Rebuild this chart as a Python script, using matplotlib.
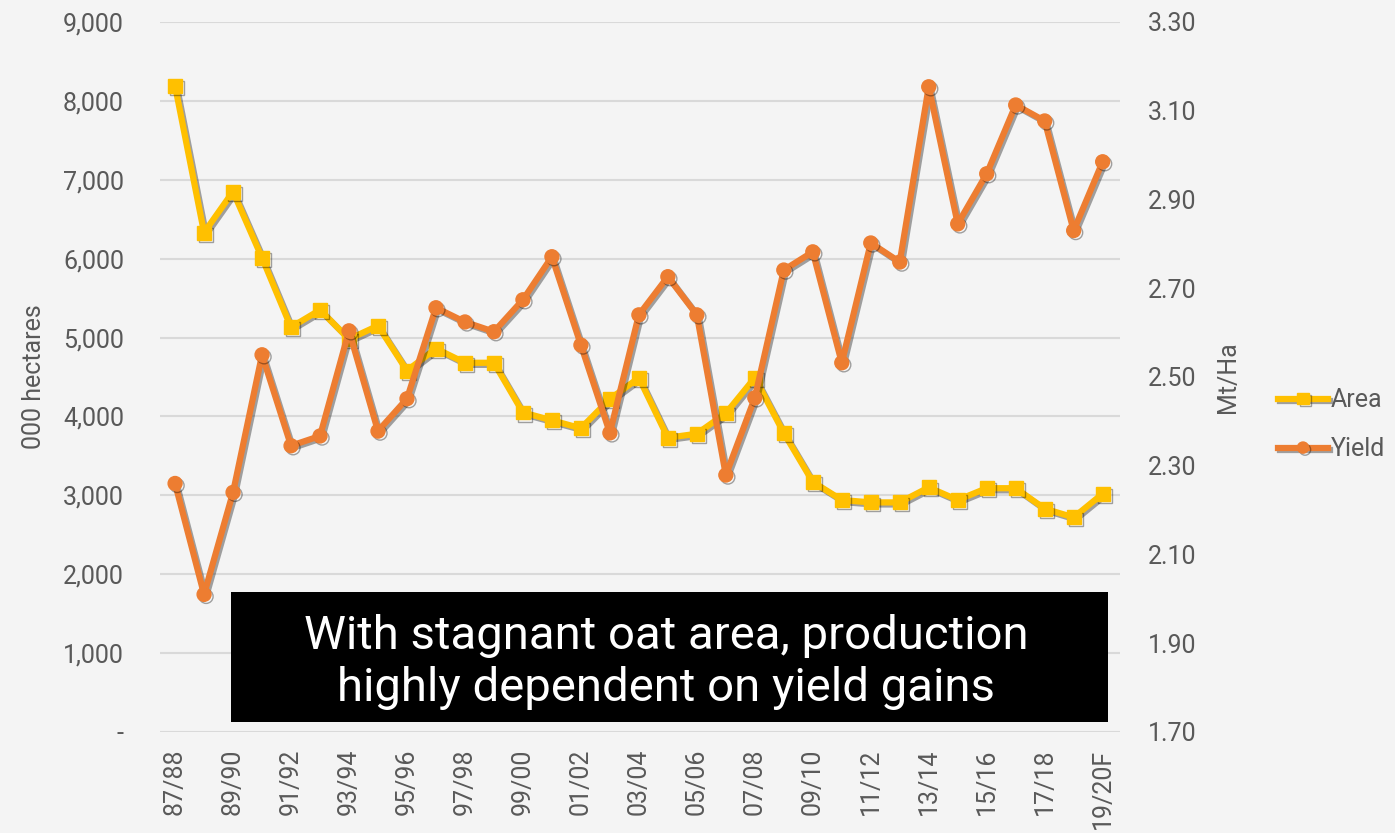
import matplotlib.pyplot as plt
import matplotlib.patheffects as pe
from matplotlib.ticker import FuncFormatter
import numpy as np

# Oat area and yield by marketing year
seasons = ['87/88', '88/89', '89/90', '90/91', '91/92', '92/93', '93/94', '94/95',
           '95/96', '96/97', '97/98', '98/99', '99/00', '00/01', '01/02', '02/03',
           '03/04', '04/05', '05/06', '06/07', '07/08', '08/09', '09/10', '10/11',
           '11/12', '12/13', '13/14', '14/15', '15/16', '16/17', '17/18', '18/19',
           '19/20F']
area = [8190, 6330, 6850, 6010, 5130, 5350, 4980, 5150, 4580, 4860, 4680, 4680,
        4050, 3950, 3850, 4220, 4490, 3730, 3780, 4040, 4490, 3790, 3170, 2940,
        2910, 2910, 3100, 2940, 3090, 3090, 2830, 2720, 3020]
yld = [2.26, 2.01, 2.24, 2.55, 2.345, 2.367, 2.604, 2.378, 2.451, 2.656, 2.624,
       2.602, 2.674, 2.771, 2.572, 2.374, 2.64, 2.726, 2.64, 2.279, 2.453, 2.741,
       2.782, 2.532, 2.802, 2.759, 3.154, 2.845, 2.958, 3.113, 3.077, 2.83, 2.985]

area_col = '#FFC000'
yld_col = '#ED7D31'
txt_col = '#595959'
bg = '#F4F4F4'

plt.rcParams['font.family'] = ['Roboto', 'DejaVu Sans']

fig = plt.figure(figsize=(13.95, 8.33), dpi=100, facecolor=bg)
ax = fig.add_axes([0.1147, 0.1213, 0.6882, 0.8523], facecolor=bg)
ax2 = ax.twinx()

x = np.arange(len(seasons))
shadow = [pe.SimpleLineShadow(offset=(1.5, -1.5), shadow_color='k', alpha=0.35),
          pe.Normal()]

ax.plot(x, area, color=area_col, lw=4.5, marker='s', ms=10, label='Area',
        path_effects=shadow, zorder=3)
ax2.plot(x, yld, color=yld_col, lw=4.5, marker='o', ms=10, label='Yield',
         path_effects=shadow, zorder=3)

ax.set_xlim(-0.52, 32.6)
ax.set_ylim(0, 9000)
ax.set_yticks(np.arange(0, 9001, 1000))
ax.yaxis.set_major_formatter(FuncFormatter(lambda v, p: '-' if v == 0 else f'{v:,.0f}'))
ax2.set_ylim(1.70, 3.30)
ax2.set_yticks(np.arange(1.70, 3.31, 0.20))
ax2.yaxis.set_major_formatter(FuncFormatter(lambda v, p: f'{v:.2f}'))

ax.set_xticks(x[::2])
ax.set_xticklabels(seasons[::2], rotation=90)

ax.grid(axis='y', color='#D9D9D9', lw=1.5)
ax.set_axisbelow(True)
for a in (ax, ax2):
    for s in a.spines.values():
        s.set_visible(False)
    a.tick_params(length=0, labelsize=18, labelcolor=txt_col)
ax.tick_params(axis='y', pad=26)
ax.tick_params(axis='x', pad=12)
ax2.tick_params(axis='y', pad=20)

ax.set_ylabel('000 hectares', fontsize=18, color=txt_col, labelpad=12)
ax2.set_ylabel('Mt/Ha', fontsize=18, color=txt_col, labelpad=14)

h1, l1 = ax.get_legend_handles_labels()
h2, l2 = ax2.get_legend_handles_labels()
fig.legend(h1 + h2, l1 + l2, loc='center left', bbox_to_anchor=(0.9, 0.49),
           frameon=False, fontsize=18, labelcolor=txt_col, handlelength=2.0,
           handletextpad=0.1, labelspacing=1.0, markerscale=0.8)

fig.patches.append(plt.Rectangle((231 / 1395, 1 - 722 / 833), 877 / 1395, 130 / 833,
                                 transform=fig.transFigure, facecolor='black',
                                 edgecolor='none', zorder=9))
fig.text(0.4776, 0.205, 'With stagnant oat area, production\nhighly dependent on yield gains',
         ha='center', va='center', color='white', fontsize=34, linespacing=1.22,
         zorder=10)

fig.savefig('out.png', dpi=100, facecolor=bg)
